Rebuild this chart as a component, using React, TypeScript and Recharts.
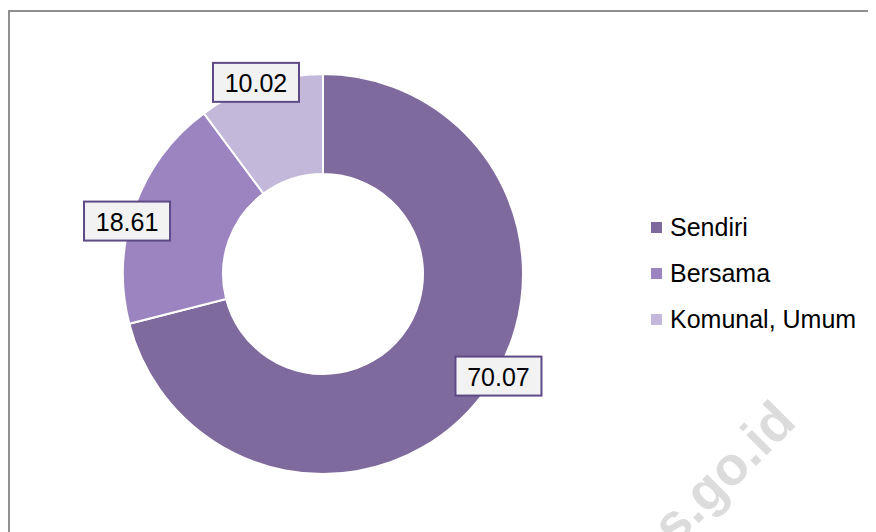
import React from 'react';
import { PieChart, Pie, Cell } from 'recharts';

const categories = ['Sendiri', 'Bersama', 'Komunal, Umum'];
const values = [70.07, 18.61, 10.02];
const colors = ['#7F6A9D', '#9C84C0', '#C4B8DA'];
// small angle nudges (deg) so labels sit where the original's best-fit put them
const labelNudge = [7.6, 4.4, 1];

const data = categories.map((name, i) => ({ name, value: values[i], color: colors[i] }));

const RADIAN = Math.PI / 180;
const FONT = '"Liberation Sans", Arial, sans-serif';

const renderLabel = (props: any) => {
  const { cx, cy, midAngle, outerRadius, index, value } = props;
  const r = outerRadius + 3;
  const a = (midAngle + labelNudge[index]) * RADIAN;
  const x = cx + r * Math.cos(-a);
  const y = cy + r * Math.sin(-a);
  const w = 86;
  const h = 39;
  return (
    <g>
      <rect x={x - w / 2} y={y - h / 2} width={w} height={h} fill="#F2F2F2" stroke="#5E4A86" strokeWidth={2} />
      <text x={x} y={y + 1} textAnchor="middle" dominantBaseline="central" fill="#000" fontSize={25} fontFamily={FONT}>
        {value.toFixed(2)}
      </text>
    </g>
  );
};

export default function App() {
  return (
    <div style={{ position: 'relative', width: 868, height: 524, overflow: 'hidden', background: '#fff' }}>
      {/* chart frame, only left and top edges fall inside the picture */}
      <div style={{ position: 'absolute', left: 0, top: 2, width: 900, height: 600, borderLeft: '2px solid #8f8f8f', borderTop: '2px solid #8f8f8f', boxSizing: 'border-box' }} />

      {/* watermark */}
      <svg width={868} height={524} style={{ position: 'absolute', left: 0, top: 0 }}>
        <text
          x={0}
          y={0}
          transform="translate(790 416) rotate(-45)"
          textAnchor="end"
          fontFamily={FONT}
          fontWeight="bold"
          fontSize={54}
          fill="#DCDCDC"
        >
          bps.go.id
        </text>
      </svg>

      <div style={{ position: 'absolute', left: 0, top: 0 }}>
        <PieChart width={868} height={524} margin={{ top: 0, right: 0, bottom: 0, left: 0 }}>
          <Pie
            data={data}
            dataKey="value"
            nameKey="name"
            cx={315}
            cy={266}
            innerRadius={100}
            outerRadius={200}
            startAngle={90}
            endAngle={-270}
            stroke="#fff"
            strokeWidth={2}
            label={renderLabel}
            labelLine={false}
            isAnimationActive={false}
          >
            {data.map((d, i) => (
              <Cell key={`cell-${i}`} fill={d.color} />
            ))}
          </Pie>
        </PieChart>
      </div>

      {/* legend: small square + name */}
      <div style={{ position: 'absolute', left: 643, top: 196, fontFamily: FONT, fontSize: 25, color: '#000' }}>
        {data.map((d, i) => (
          <div key={i} style={{ display: 'flex', alignItems: 'center', height: 46 }}>
            <span style={{ width: 11, height: 11, background: d.color, display: 'inline-block', marginRight: 8 }} />
            <span>{d.name}</span>
          </div>
        ))}
      </div>
    </div>
  );
}
